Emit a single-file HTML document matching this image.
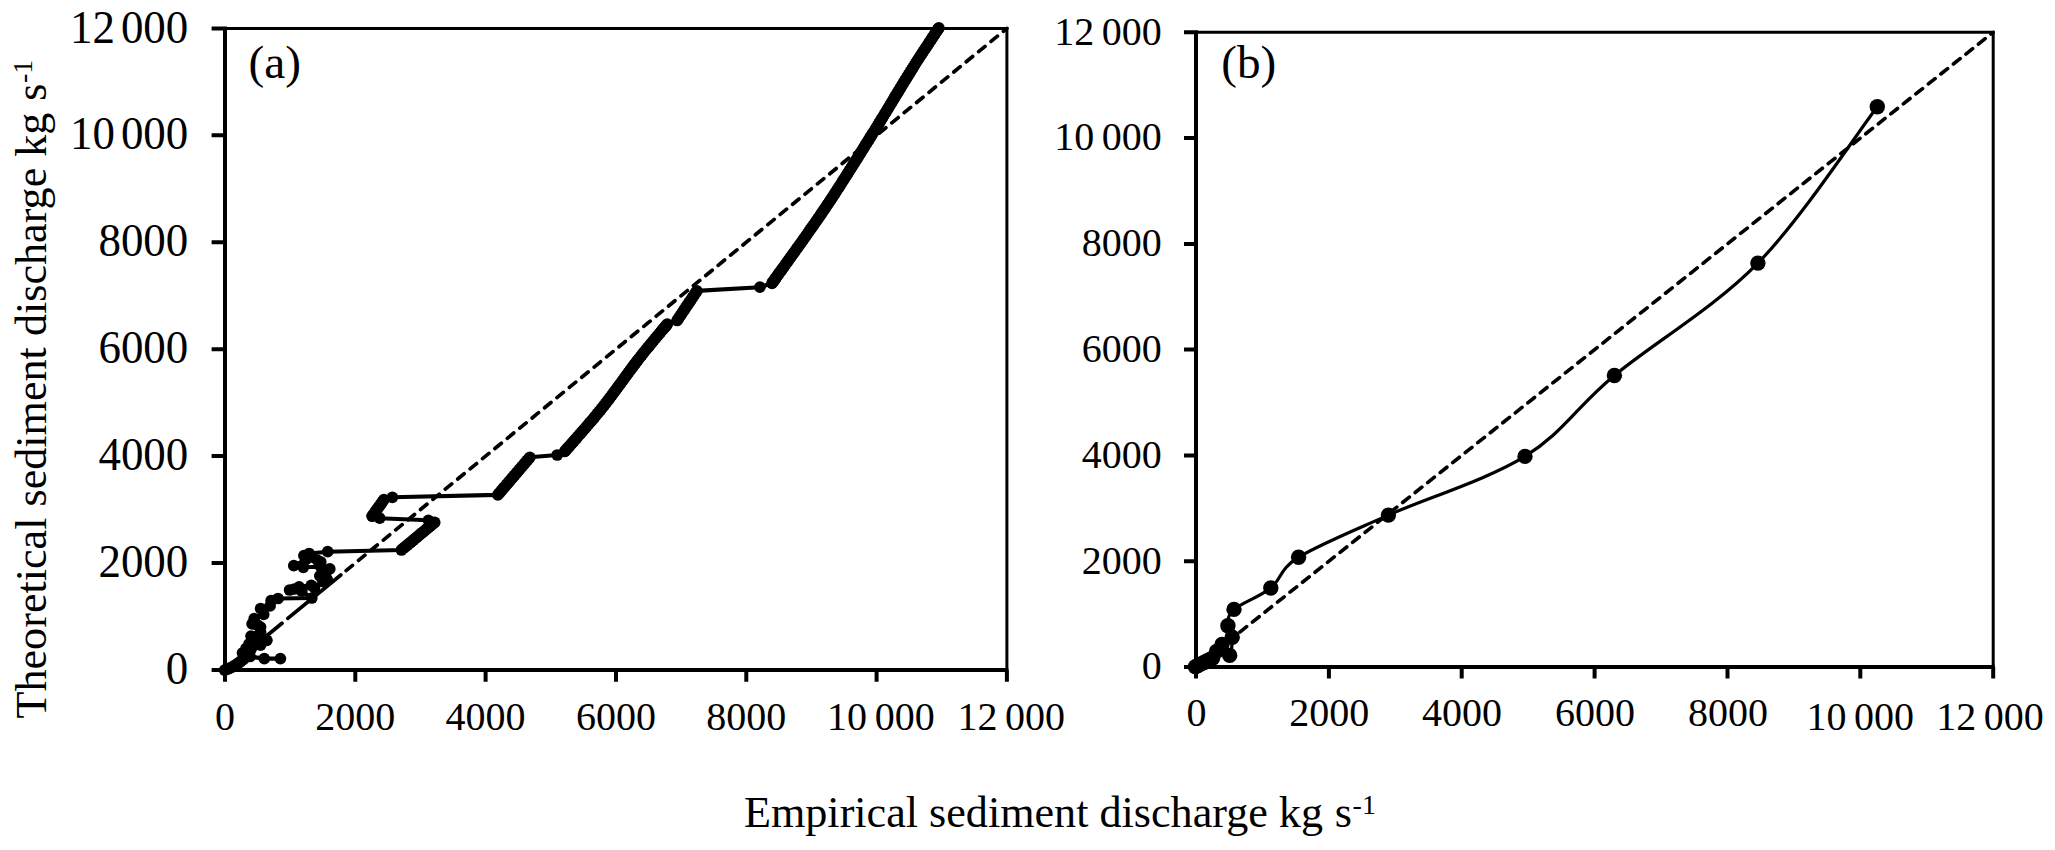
<!DOCTYPE html>
<html lang="en"><head><meta charset="utf-8"><title>Sediment discharge: theoretical vs empirical</title>
<style>html,body{margin:0;padding:0;background:#fff}svg{display:block}text{font-family:"Liberation Serif","Times New Roman",serif;fill:#000}</style>
</head><body>
<svg width="2055" height="850" viewBox="0 0 2055 850">
<rect width="2055" height="850" fill="#fff"/>
<g id="plot-a">
<path d="M225 28.4H1006.9V670" fill="none" stroke="#000" stroke-width="3"/>
<path d="M225 26.4V681.8M211.6 670H1008.4M355.3 670V681.8M211.6 563.1H225M485.6 670V681.8M211.6 456.1H225M616 670V681.8M211.6 349.2H225M746.3 670V681.8M211.6 242.3H225M876.6 670V681.8M211.6 135.3H225M1006.9 670V681.8M211.6 28.4H225" fill="none" stroke="#000" stroke-width="4"/>
<g transform="translate(188.3 684.1) scale(0.977 1)"><text x="0" y="0" font-size="46" text-anchor="end">0</text></g>
<g transform="translate(188.3 577.2) scale(0.977 1)"><text x="0" y="0" font-size="46" text-anchor="end">2000</text></g>
<g transform="translate(188.3 470.2) scale(0.977 1)"><text x="0" y="0" font-size="46" text-anchor="end">4000</text></g>
<g transform="translate(188.3 363.3) scale(0.977 1)"><text x="0" y="0" font-size="46" text-anchor="end">6000</text></g>
<g transform="translate(188.3 256.4) scale(0.977 1)"><text x="0" y="0" font-size="46" text-anchor="end">8000</text></g>
<g transform="translate(188.3 149.4) scale(0.977 1)"><text x="0" y="0" font-size="46" text-anchor="end">10&#8201;<tspan dx="-3.2">000</tspan></text></g>
<g transform="translate(188.3 42.5) scale(0.977 1)"><text x="0" y="0" font-size="46" text-anchor="end">12&#8201;<tspan dx="-3.2">000</tspan></text></g>
<text x="225" y="730.3" font-size="40" text-anchor="middle">0</text>
<text x="355.3" y="730.3" font-size="40" text-anchor="middle">2000</text>
<text x="485.6" y="730.3" font-size="40" text-anchor="middle">4000</text>
<text x="616" y="730.3" font-size="40" text-anchor="middle">6000</text>
<text x="746.3" y="730.3" font-size="40" text-anchor="middle">8000</text>
<text x="880.9" y="730.3" font-size="40" text-anchor="middle">10&#8201;<tspan dx="-0.4">000</tspan></text>
<text x="1011.2" y="730.3" font-size="40" text-anchor="middle">12&#8201;<tspan dx="-0.4">000</tspan></text>
<text x="248.5" y="78.2" font-size="47.2">(a)</text>
<path d="M225 670L282 623.3M287.8 618.4L340.8 575.0" fill="none" stroke="#000" stroke-width="3.7" stroke-linecap="round"/>
<path d="M346.1 570.6L1006.9 28.4" fill="none" stroke="#000" stroke-width="3.7" stroke-linecap="round" stroke-dasharray="8.3 7.743"/>
<polyline fill="none" stroke="#000" stroke-width="4.1" stroke-linejoin="round" points="280.4,658.6 264.3,658.6 250,656.5 224.6,670.1 225.9,669.6 227.7,669 229.8,668.1 232,667.1 234.1,666 235.6,665 237.2,663.9 238.9,662.8 240.5,661.5 242.1,660.2 243.5,659 244.8,657.8 246.3,656.2 247.6,654.6 248.7,653 249.6,651.5 250.5,650 251.5,648.1 252.4,646.3 253,644.6 253.5,643.5 242.5,653 246,648.5 249,644 260.6,645.1 266.9,640.3 256.3,636.6 251,636.1 260.6,632.4 260.6,627.1 257.4,625 252.1,623.9 254.2,618.6 263.7,614.4 260.6,608.5 270.1,605.9 271.1,600.6 278,598.5 311.8,598 301.8,591.1 289.6,590 294.3,589 299.1,586.9 311.3,585.3 314.5,587.9 322.9,581.6 327.2,579.5 324,577.3 319.8,575.8 326.1,572.1 329.8,568.9 320.8,566.8 303.3,567.3 293.8,565.7 306,559.3 312.3,557.2 320.8,562 317.6,560.4 303.9,555.6 309.2,553.5 327.7,551.7 401.4,550 402.9,548.7 404.4,547.5 405.9,546.2 407.5,545 409,543.7 410.5,542.5 412,541.2 413.5,540 415,538.7 416.5,537.5 418,536.2 419.6,534.9 421.1,533.7 422.6,532.4 424.1,531.2 425.6,529.9 427.1,528.7 428.6,527.4 430.2,526.2 431.7,524.9 433.2,523.7 434.7,522.4 428.4,520.3 379.7,518.2 372.2,516.1 372.2,516.1 373.4,514.5 374.5,512.8 375.7,511.2 376.9,509.5 378,507.9 379.2,506.3 380.4,504.6 381.6,503 382.7,501.3 383.9,499.7 392.4,497.3 497.8,494.9 499.1,493.4 500.4,491.9 501.7,490.4 502.9,488.9 504.2,487.4 505.5,485.9 506.8,484.4 508.1,482.9 509.4,481.4 510.6,479.9 511.9,478.4 513.2,476.9 514.5,475.3 515.8,473.8 517.1,472.3 518.3,470.8 519.6,469.3 520.9,467.8 522.2,466.3 523.5,464.8 524.8,463.3 526,461.8 527.3,460.3 528.6,458.8 529.9,457.3 557.2,455 564.7,451.5 565.4,450.7 566.2,449.8 567.1,448.7 568.1,447.7 569.1,446.5 570.2,445.2 571.4,443.9 572.6,442.5 573.9,441 575.2,439.5 576.6,438 578,436.3 579.5,434.7 580.9,433 582.4,431.3 584,429.5 585.5,427.8 587,426 588.6,424.2 590.1,422.4 591.7,420.6 593.2,418.8 594.7,417 596.2,415.2 597.6,413.4 599.1,411.7 600.5,410 601.8,408.3 603,406.8 604.2,405.3 605.4,403.7 606.6,402.1 607.9,400.5 609.1,398.9 610.3,397.3 611.6,395.6 612.8,393.9 614,392.3 615.3,390.6 616.5,388.9 617.8,387.2 619,385.5 620.2,383.9 621.5,382.2 622.7,380.5 623.9,378.8 625.1,377.2 626.3,375.5 627.5,373.9 628.7,372.3 629.9,370.7 631,369.1 632.2,367.5 633.3,366 634.4,364.5 635.6,363 636.7,361.6 637.7,360.2 638.8,358.8 640.3,356.9 641.8,355 643.3,353 644.9,351.1 646.4,349.2 648,347.4 649.5,345.5 651,343.7 652.5,341.9 653.9,340.1 655.4,338.4 656.8,336.7 658.1,335.1 659.4,333.6 660.6,332.1 661.8,330.7 662.9,329.4 664,328.2 664.9,327 665.8,326 666.6,325 667.3,324.2 677.1,320.5 678.2,318.9 679.3,317.2 680.4,315.6 681.5,313.9 682.6,312.3 683.7,310.6 684.8,309 685.9,307.3 687,305.7 688.1,304.1 689.2,302.4 690.3,300.8 691.4,299.1 692.5,297.5 693.6,295.8 694.7,294.2 695.8,292.5 696.9,290.9 759.9,287.2 772,283.3 772.6,282.4 773.3,281.5 774,280.5 774.7,279.5 775.5,278.4 776.4,277.2 777.2,275.9 778.2,274.7 779.1,273.3 780.1,271.9 781.2,270.5 782.2,269 783.3,267.5 784.5,265.9 785.6,264.3 786.8,262.6 788,261 789.2,259.2 790.5,257.5 791.8,255.7 793.1,253.9 794.3,252.1 795.7,250.3 797,248.4 798.3,246.6 799.7,244.7 801,242.8 802.4,240.9 803.7,239 805.1,237.1 806.4,235.2 807.8,233.3 809.1,231.3 810.4,229.4 811.8,227.5 813.1,225.7 814.4,223.8 815.7,221.9 817,220.1 818.2,218.3 819.5,216.5 820.7,214.7 821.9,213 823,211.2 824.2,209.6 825.3,207.9 826.4,206.2 827.5,204.5 828.7,202.9 829.8,201.2 830.9,199.5 832,197.8 833.1,196.1 834.3,194.4 835.4,192.6 836.5,190.9 837.6,189.2 838.7,187.5 839.8,185.8 840.9,184.1 842,182.3 843.1,180.6 844.2,178.9 845.3,177.2 846.4,175.5 847.5,173.7 848.6,172 849.6,170.3 850.7,168.6 851.8,166.9 852.9,165.2 853.9,163.5 855,161.8 856,160.2 857.1,158.5 858.1,156.8 859.2,155.1 860.2,153.5 861.2,151.8 862.3,150.2 863.3,148.6 864.3,146.9 865.3,145.3 866.3,143.7 867.3,142.1 868.3,140.5 869.3,139 870.2,137.4 871.2,135.9 872.1,134.3 873.1,132.8 874.3,130.9 875.5,129 876.6,127.1 877.8,125.3 878.9,123.4 880.1,121.6 881.2,119.7 882.3,117.9 883.4,116.1 884.5,114.3 885.6,112.5 886.7,110.7 887.8,108.9 888.9,107.1 889.9,105.3 891,103.6 892,101.9 893.1,100.1 894.1,98.4 895.1,96.7 896.1,95 897.2,93.4 898.2,91.7 899.2,90 900.2,88.4 901.1,86.8 902.1,85.2 903.1,83.6 904,82 905,80.4 906,78.9 906.9,77.4 907.8,75.8 908.8,74.4 909.7,72.9 910.6,71.4 911.9,69.4 913.2,67.3 914.4,65.3 915.7,63.3 917,61.2 918.3,59.2 919.6,57.2 920.9,55.2 922.2,53.3 923.4,51.3 924.7,49.4 925.9,47.6 927.1,45.8 928.3,44 929.4,42.3 930.5,40.6 931.6,39 932.6,37.4 933.6,35.9 934.5,34.5 935.4,33.2 936.2,31.9 937,30.8 937.7,29.7 938.3,28.7 938.9,27.8"/>
<g fill="#000">
<circle cx="280.4" cy="658.6" r="5.85"/>
<circle cx="264.3" cy="658.6" r="5.85"/>
<circle cx="250" cy="656.5" r="5.85"/>
<circle cx="224.6" cy="670.1" r="5.85"/>
<circle cx="225.9" cy="669.6" r="5.85"/>
<circle cx="227.7" cy="669" r="5.85"/>
<circle cx="229.8" cy="668.1" r="5.85"/>
<circle cx="232" cy="667.1" r="5.85"/>
<circle cx="234.1" cy="666" r="5.85"/>
<circle cx="235.6" cy="665" r="5.85"/>
<circle cx="237.2" cy="663.9" r="5.85"/>
<circle cx="238.9" cy="662.8" r="5.85"/>
<circle cx="240.5" cy="661.5" r="5.85"/>
<circle cx="242.1" cy="660.2" r="5.85"/>
<circle cx="243.5" cy="659" r="5.85"/>
<circle cx="244.8" cy="657.8" r="5.85"/>
<circle cx="246.3" cy="656.2" r="5.85"/>
<circle cx="247.6" cy="654.6" r="5.85"/>
<circle cx="248.7" cy="653" r="5.85"/>
<circle cx="249.6" cy="651.5" r="5.85"/>
<circle cx="250.5" cy="650" r="5.85"/>
<circle cx="251.5" cy="648.1" r="5.85"/>
<circle cx="252.4" cy="646.3" r="5.85"/>
<circle cx="253" cy="644.6" r="5.85"/>
<circle cx="253.5" cy="643.5" r="5.85"/>
<circle cx="242.5" cy="653" r="5.85"/>
<circle cx="246" cy="648.5" r="5.85"/>
<circle cx="249" cy="644" r="5.85"/>
<circle cx="260.6" cy="645.1" r="5.85"/>
<circle cx="266.9" cy="640.3" r="5.85"/>
<circle cx="256.3" cy="636.6" r="5.85"/>
<circle cx="251" cy="636.1" r="5.85"/>
<circle cx="260.6" cy="632.4" r="5.85"/>
<circle cx="260.6" cy="627.1" r="5.85"/>
<circle cx="257.4" cy="625" r="5.85"/>
<circle cx="252.1" cy="623.9" r="5.85"/>
<circle cx="254.2" cy="618.6" r="5.85"/>
<circle cx="263.7" cy="614.4" r="5.85"/>
<circle cx="260.6" cy="608.5" r="5.85"/>
<circle cx="270.1" cy="605.9" r="5.85"/>
<circle cx="271.1" cy="600.6" r="5.85"/>
<circle cx="278" cy="598.5" r="5.85"/>
<circle cx="311.8" cy="598" r="5.85"/>
<circle cx="301.8" cy="591.1" r="5.85"/>
<circle cx="289.6" cy="590" r="5.85"/>
<circle cx="294.3" cy="589" r="5.85"/>
<circle cx="299.1" cy="586.9" r="5.85"/>
<circle cx="311.3" cy="585.3" r="5.85"/>
<circle cx="314.5" cy="587.9" r="5.85"/>
<circle cx="322.9" cy="581.6" r="5.85"/>
<circle cx="327.2" cy="579.5" r="5.85"/>
<circle cx="324" cy="577.3" r="5.85"/>
<circle cx="319.8" cy="575.8" r="5.85"/>
<circle cx="326.1" cy="572.1" r="5.85"/>
<circle cx="329.8" cy="568.9" r="5.85"/>
<circle cx="320.8" cy="566.8" r="5.85"/>
<circle cx="303.3" cy="567.3" r="5.85"/>
<circle cx="293.8" cy="565.7" r="5.85"/>
<circle cx="306" cy="559.3" r="5.85"/>
<circle cx="312.3" cy="557.2" r="5.85"/>
<circle cx="320.8" cy="562" r="5.85"/>
<circle cx="317.6" cy="560.4" r="5.85"/>
<circle cx="303.9" cy="555.6" r="5.85"/>
<circle cx="309.2" cy="553.5" r="5.85"/>
<circle cx="327.7" cy="551.7" r="5.85"/>
<circle cx="401.4" cy="550" r="5.85"/>
<circle cx="402.9" cy="548.7" r="5.85"/>
<circle cx="404.4" cy="547.5" r="5.85"/>
<circle cx="405.9" cy="546.2" r="5.85"/>
<circle cx="407.5" cy="545" r="5.85"/>
<circle cx="409" cy="543.7" r="5.85"/>
<circle cx="410.5" cy="542.5" r="5.85"/>
<circle cx="412" cy="541.2" r="5.85"/>
<circle cx="413.5" cy="540" r="5.85"/>
<circle cx="415" cy="538.7" r="5.85"/>
<circle cx="416.5" cy="537.5" r="5.85"/>
<circle cx="418" cy="536.2" r="5.85"/>
<circle cx="419.6" cy="534.9" r="5.85"/>
<circle cx="421.1" cy="533.7" r="5.85"/>
<circle cx="422.6" cy="532.4" r="5.85"/>
<circle cx="424.1" cy="531.2" r="5.85"/>
<circle cx="425.6" cy="529.9" r="5.85"/>
<circle cx="427.1" cy="528.7" r="5.85"/>
<circle cx="428.6" cy="527.4" r="5.85"/>
<circle cx="430.2" cy="526.2" r="5.85"/>
<circle cx="431.7" cy="524.9" r="5.85"/>
<circle cx="433.2" cy="523.7" r="5.85"/>
<circle cx="434.7" cy="522.4" r="5.85"/>
<circle cx="428.4" cy="520.3" r="5.85"/>
<circle cx="379.7" cy="518.2" r="5.85"/>
<circle cx="372.2" cy="516.1" r="5.85"/>
<circle cx="372.2" cy="516.1" r="5.85"/>
<circle cx="373.4" cy="514.5" r="5.85"/>
<circle cx="374.5" cy="512.8" r="5.85"/>
<circle cx="375.7" cy="511.2" r="5.85"/>
<circle cx="376.9" cy="509.5" r="5.85"/>
<circle cx="378" cy="507.9" r="5.85"/>
<circle cx="379.2" cy="506.3" r="5.85"/>
<circle cx="380.4" cy="504.6" r="5.85"/>
<circle cx="381.6" cy="503" r="5.85"/>
<circle cx="382.7" cy="501.3" r="5.85"/>
<circle cx="383.9" cy="499.7" r="5.85"/>
<circle cx="392.4" cy="497.3" r="5.85"/>
<circle cx="497.8" cy="494.9" r="5.85"/>
<circle cx="499.1" cy="493.4" r="5.85"/>
<circle cx="500.4" cy="491.9" r="5.85"/>
<circle cx="501.7" cy="490.4" r="5.85"/>
<circle cx="502.9" cy="488.9" r="5.85"/>
<circle cx="504.2" cy="487.4" r="5.85"/>
<circle cx="505.5" cy="485.9" r="5.85"/>
<circle cx="506.8" cy="484.4" r="5.85"/>
<circle cx="508.1" cy="482.9" r="5.85"/>
<circle cx="509.4" cy="481.4" r="5.85"/>
<circle cx="510.6" cy="479.9" r="5.85"/>
<circle cx="511.9" cy="478.4" r="5.85"/>
<circle cx="513.2" cy="476.9" r="5.85"/>
<circle cx="514.5" cy="475.3" r="5.85"/>
<circle cx="515.8" cy="473.8" r="5.85"/>
<circle cx="517.1" cy="472.3" r="5.85"/>
<circle cx="518.3" cy="470.8" r="5.85"/>
<circle cx="519.6" cy="469.3" r="5.85"/>
<circle cx="520.9" cy="467.8" r="5.85"/>
<circle cx="522.2" cy="466.3" r="5.85"/>
<circle cx="523.5" cy="464.8" r="5.85"/>
<circle cx="524.8" cy="463.3" r="5.85"/>
<circle cx="526" cy="461.8" r="5.85"/>
<circle cx="527.3" cy="460.3" r="5.85"/>
<circle cx="528.6" cy="458.8" r="5.85"/>
<circle cx="529.9" cy="457.3" r="5.85"/>
<circle cx="557.2" cy="455" r="5.85"/>
<circle cx="564.7" cy="451.5" r="5.85"/>
<circle cx="565.4" cy="450.7" r="5.85"/>
<circle cx="566.2" cy="449.8" r="5.85"/>
<circle cx="567.1" cy="448.7" r="5.85"/>
<circle cx="568.1" cy="447.7" r="5.85"/>
<circle cx="569.1" cy="446.5" r="5.85"/>
<circle cx="570.2" cy="445.2" r="5.85"/>
<circle cx="571.4" cy="443.9" r="5.85"/>
<circle cx="572.6" cy="442.5" r="5.85"/>
<circle cx="573.9" cy="441" r="5.85"/>
<circle cx="575.2" cy="439.5" r="5.85"/>
<circle cx="576.6" cy="438" r="5.85"/>
<circle cx="578" cy="436.3" r="5.85"/>
<circle cx="579.5" cy="434.7" r="5.85"/>
<circle cx="580.9" cy="433" r="5.85"/>
<circle cx="582.4" cy="431.3" r="5.85"/>
<circle cx="584" cy="429.5" r="5.85"/>
<circle cx="585.5" cy="427.8" r="5.85"/>
<circle cx="587" cy="426" r="5.85"/>
<circle cx="588.6" cy="424.2" r="5.85"/>
<circle cx="590.1" cy="422.4" r="5.85"/>
<circle cx="591.7" cy="420.6" r="5.85"/>
<circle cx="593.2" cy="418.8" r="5.85"/>
<circle cx="594.7" cy="417" r="5.85"/>
<circle cx="596.2" cy="415.2" r="5.85"/>
<circle cx="597.6" cy="413.4" r="5.85"/>
<circle cx="599.1" cy="411.7" r="5.85"/>
<circle cx="600.5" cy="410" r="5.85"/>
<circle cx="601.8" cy="408.3" r="5.85"/>
<circle cx="603" cy="406.8" r="5.85"/>
<circle cx="604.2" cy="405.3" r="5.85"/>
<circle cx="605.4" cy="403.7" r="5.85"/>
<circle cx="606.6" cy="402.1" r="5.85"/>
<circle cx="607.9" cy="400.5" r="5.85"/>
<circle cx="609.1" cy="398.9" r="5.85"/>
<circle cx="610.3" cy="397.3" r="5.85"/>
<circle cx="611.6" cy="395.6" r="5.85"/>
<circle cx="612.8" cy="393.9" r="5.85"/>
<circle cx="614" cy="392.3" r="5.85"/>
<circle cx="615.3" cy="390.6" r="5.85"/>
<circle cx="616.5" cy="388.9" r="5.85"/>
<circle cx="617.8" cy="387.2" r="5.85"/>
<circle cx="619" cy="385.5" r="5.85"/>
<circle cx="620.2" cy="383.9" r="5.85"/>
<circle cx="621.5" cy="382.2" r="5.85"/>
<circle cx="622.7" cy="380.5" r="5.85"/>
<circle cx="623.9" cy="378.8" r="5.85"/>
<circle cx="625.1" cy="377.2" r="5.85"/>
<circle cx="626.3" cy="375.5" r="5.85"/>
<circle cx="627.5" cy="373.9" r="5.85"/>
<circle cx="628.7" cy="372.3" r="5.85"/>
<circle cx="629.9" cy="370.7" r="5.85"/>
<circle cx="631" cy="369.1" r="5.85"/>
<circle cx="632.2" cy="367.5" r="5.85"/>
<circle cx="633.3" cy="366" r="5.85"/>
<circle cx="634.4" cy="364.5" r="5.85"/>
<circle cx="635.6" cy="363" r="5.85"/>
<circle cx="636.7" cy="361.6" r="5.85"/>
<circle cx="637.7" cy="360.2" r="5.85"/>
<circle cx="638.8" cy="358.8" r="5.85"/>
<circle cx="640.3" cy="356.9" r="5.85"/>
<circle cx="641.8" cy="355" r="5.85"/>
<circle cx="643.3" cy="353" r="5.85"/>
<circle cx="644.9" cy="351.1" r="5.85"/>
<circle cx="646.4" cy="349.2" r="5.85"/>
<circle cx="648" cy="347.4" r="5.85"/>
<circle cx="649.5" cy="345.5" r="5.85"/>
<circle cx="651" cy="343.7" r="5.85"/>
<circle cx="652.5" cy="341.9" r="5.85"/>
<circle cx="653.9" cy="340.1" r="5.85"/>
<circle cx="655.4" cy="338.4" r="5.85"/>
<circle cx="656.8" cy="336.7" r="5.85"/>
<circle cx="658.1" cy="335.1" r="5.85"/>
<circle cx="659.4" cy="333.6" r="5.85"/>
<circle cx="660.6" cy="332.1" r="5.85"/>
<circle cx="661.8" cy="330.7" r="5.85"/>
<circle cx="662.9" cy="329.4" r="5.85"/>
<circle cx="664" cy="328.2" r="5.85"/>
<circle cx="664.9" cy="327" r="5.85"/>
<circle cx="665.8" cy="326" r="5.85"/>
<circle cx="666.6" cy="325" r="5.85"/>
<circle cx="667.3" cy="324.2" r="5.85"/>
<circle cx="677.1" cy="320.5" r="5.85"/>
<circle cx="678.2" cy="318.9" r="5.85"/>
<circle cx="679.3" cy="317.2" r="5.85"/>
<circle cx="680.4" cy="315.6" r="5.85"/>
<circle cx="681.5" cy="313.9" r="5.85"/>
<circle cx="682.6" cy="312.3" r="5.85"/>
<circle cx="683.7" cy="310.6" r="5.85"/>
<circle cx="684.8" cy="309" r="5.85"/>
<circle cx="685.9" cy="307.3" r="5.85"/>
<circle cx="687" cy="305.7" r="5.85"/>
<circle cx="688.1" cy="304.1" r="5.85"/>
<circle cx="689.2" cy="302.4" r="5.85"/>
<circle cx="690.3" cy="300.8" r="5.85"/>
<circle cx="691.4" cy="299.1" r="5.85"/>
<circle cx="692.5" cy="297.5" r="5.85"/>
<circle cx="693.6" cy="295.8" r="5.85"/>
<circle cx="694.7" cy="294.2" r="5.85"/>
<circle cx="695.8" cy="292.5" r="5.85"/>
<circle cx="696.9" cy="290.9" r="5.85"/>
<circle cx="759.9" cy="287.2" r="5.85"/>
<circle cx="772" cy="283.3" r="5.85"/>
<circle cx="772.6" cy="282.4" r="5.85"/>
<circle cx="773.3" cy="281.5" r="5.85"/>
<circle cx="774" cy="280.5" r="5.85"/>
<circle cx="774.7" cy="279.5" r="5.85"/>
<circle cx="775.5" cy="278.4" r="5.85"/>
<circle cx="776.4" cy="277.2" r="5.85"/>
<circle cx="777.2" cy="275.9" r="5.85"/>
<circle cx="778.2" cy="274.7" r="5.85"/>
<circle cx="779.1" cy="273.3" r="5.85"/>
<circle cx="780.1" cy="271.9" r="5.85"/>
<circle cx="781.2" cy="270.5" r="5.85"/>
<circle cx="782.2" cy="269" r="5.85"/>
<circle cx="783.3" cy="267.5" r="5.85"/>
<circle cx="784.5" cy="265.9" r="5.85"/>
<circle cx="785.6" cy="264.3" r="5.85"/>
<circle cx="786.8" cy="262.6" r="5.85"/>
<circle cx="788" cy="261" r="5.85"/>
<circle cx="789.2" cy="259.2" r="5.85"/>
<circle cx="790.5" cy="257.5" r="5.85"/>
<circle cx="791.8" cy="255.7" r="5.85"/>
<circle cx="793.1" cy="253.9" r="5.85"/>
<circle cx="794.3" cy="252.1" r="5.85"/>
<circle cx="795.7" cy="250.3" r="5.85"/>
<circle cx="797" cy="248.4" r="5.85"/>
<circle cx="798.3" cy="246.6" r="5.85"/>
<circle cx="799.7" cy="244.7" r="5.85"/>
<circle cx="801" cy="242.8" r="5.85"/>
<circle cx="802.4" cy="240.9" r="5.85"/>
<circle cx="803.7" cy="239" r="5.85"/>
<circle cx="805.1" cy="237.1" r="5.85"/>
<circle cx="806.4" cy="235.2" r="5.85"/>
<circle cx="807.8" cy="233.3" r="5.85"/>
<circle cx="809.1" cy="231.3" r="5.85"/>
<circle cx="810.4" cy="229.4" r="5.85"/>
<circle cx="811.8" cy="227.5" r="5.85"/>
<circle cx="813.1" cy="225.7" r="5.85"/>
<circle cx="814.4" cy="223.8" r="5.85"/>
<circle cx="815.7" cy="221.9" r="5.85"/>
<circle cx="817" cy="220.1" r="5.85"/>
<circle cx="818.2" cy="218.3" r="5.85"/>
<circle cx="819.5" cy="216.5" r="5.85"/>
<circle cx="820.7" cy="214.7" r="5.85"/>
<circle cx="821.9" cy="213" r="5.85"/>
<circle cx="823" cy="211.2" r="5.85"/>
<circle cx="824.2" cy="209.6" r="5.85"/>
<circle cx="825.3" cy="207.9" r="5.85"/>
<circle cx="826.4" cy="206.2" r="5.85"/>
<circle cx="827.5" cy="204.5" r="5.85"/>
<circle cx="828.7" cy="202.9" r="5.85"/>
<circle cx="829.8" cy="201.2" r="5.85"/>
<circle cx="830.9" cy="199.5" r="5.85"/>
<circle cx="832" cy="197.8" r="5.85"/>
<circle cx="833.1" cy="196.1" r="5.85"/>
<circle cx="834.3" cy="194.4" r="5.85"/>
<circle cx="835.4" cy="192.6" r="5.85"/>
<circle cx="836.5" cy="190.9" r="5.85"/>
<circle cx="837.6" cy="189.2" r="5.85"/>
<circle cx="838.7" cy="187.5" r="5.85"/>
<circle cx="839.8" cy="185.8" r="5.85"/>
<circle cx="840.9" cy="184.1" r="5.85"/>
<circle cx="842" cy="182.3" r="5.85"/>
<circle cx="843.1" cy="180.6" r="5.85"/>
<circle cx="844.2" cy="178.9" r="5.85"/>
<circle cx="845.3" cy="177.2" r="5.85"/>
<circle cx="846.4" cy="175.5" r="5.85"/>
<circle cx="847.5" cy="173.7" r="5.85"/>
<circle cx="848.6" cy="172" r="5.85"/>
<circle cx="849.6" cy="170.3" r="5.85"/>
<circle cx="850.7" cy="168.6" r="5.85"/>
<circle cx="851.8" cy="166.9" r="5.85"/>
<circle cx="852.9" cy="165.2" r="5.85"/>
<circle cx="853.9" cy="163.5" r="5.85"/>
<circle cx="855" cy="161.8" r="5.85"/>
<circle cx="856" cy="160.2" r="5.85"/>
<circle cx="857.1" cy="158.5" r="5.85"/>
<circle cx="858.1" cy="156.8" r="5.85"/>
<circle cx="859.2" cy="155.1" r="5.85"/>
<circle cx="860.2" cy="153.5" r="5.85"/>
<circle cx="861.2" cy="151.8" r="5.85"/>
<circle cx="862.3" cy="150.2" r="5.85"/>
<circle cx="863.3" cy="148.6" r="5.85"/>
<circle cx="864.3" cy="146.9" r="5.85"/>
<circle cx="865.3" cy="145.3" r="5.85"/>
<circle cx="866.3" cy="143.7" r="5.85"/>
<circle cx="867.3" cy="142.1" r="5.85"/>
<circle cx="868.3" cy="140.5" r="5.85"/>
<circle cx="869.3" cy="139" r="5.85"/>
<circle cx="870.2" cy="137.4" r="5.85"/>
<circle cx="871.2" cy="135.9" r="5.85"/>
<circle cx="872.1" cy="134.3" r="5.85"/>
<circle cx="873.1" cy="132.8" r="5.85"/>
<circle cx="874.3" cy="130.9" r="5.85"/>
<circle cx="875.5" cy="129" r="5.85"/>
<circle cx="876.6" cy="127.1" r="5.85"/>
<circle cx="877.8" cy="125.3" r="5.85"/>
<circle cx="878.9" cy="123.4" r="5.85"/>
<circle cx="880.1" cy="121.6" r="5.85"/>
<circle cx="881.2" cy="119.7" r="5.85"/>
<circle cx="882.3" cy="117.9" r="5.85"/>
<circle cx="883.4" cy="116.1" r="5.85"/>
<circle cx="884.5" cy="114.3" r="5.85"/>
<circle cx="885.6" cy="112.5" r="5.85"/>
<circle cx="886.7" cy="110.7" r="5.85"/>
<circle cx="887.8" cy="108.9" r="5.85"/>
<circle cx="888.9" cy="107.1" r="5.85"/>
<circle cx="889.9" cy="105.3" r="5.85"/>
<circle cx="891" cy="103.6" r="5.85"/>
<circle cx="892" cy="101.9" r="5.85"/>
<circle cx="893.1" cy="100.1" r="5.85"/>
<circle cx="894.1" cy="98.4" r="5.85"/>
<circle cx="895.1" cy="96.7" r="5.85"/>
<circle cx="896.1" cy="95" r="5.85"/>
<circle cx="897.2" cy="93.4" r="5.85"/>
<circle cx="898.2" cy="91.7" r="5.85"/>
<circle cx="899.2" cy="90" r="5.85"/>
<circle cx="900.2" cy="88.4" r="5.85"/>
<circle cx="901.1" cy="86.8" r="5.85"/>
<circle cx="902.1" cy="85.2" r="5.85"/>
<circle cx="903.1" cy="83.6" r="5.85"/>
<circle cx="904" cy="82" r="5.85"/>
<circle cx="905" cy="80.4" r="5.85"/>
<circle cx="906" cy="78.9" r="5.85"/>
<circle cx="906.9" cy="77.4" r="5.85"/>
<circle cx="907.8" cy="75.8" r="5.85"/>
<circle cx="908.8" cy="74.4" r="5.85"/>
<circle cx="909.7" cy="72.9" r="5.85"/>
<circle cx="910.6" cy="71.4" r="5.85"/>
<circle cx="911.9" cy="69.4" r="5.85"/>
<circle cx="913.2" cy="67.3" r="5.85"/>
<circle cx="914.4" cy="65.3" r="5.85"/>
<circle cx="915.7" cy="63.3" r="5.85"/>
<circle cx="917" cy="61.2" r="5.85"/>
<circle cx="918.3" cy="59.2" r="5.85"/>
<circle cx="919.6" cy="57.2" r="5.85"/>
<circle cx="920.9" cy="55.2" r="5.85"/>
<circle cx="922.2" cy="53.3" r="5.85"/>
<circle cx="923.4" cy="51.3" r="5.85"/>
<circle cx="924.7" cy="49.4" r="5.85"/>
<circle cx="925.9" cy="47.6" r="5.85"/>
<circle cx="927.1" cy="45.8" r="5.85"/>
<circle cx="928.3" cy="44" r="5.85"/>
<circle cx="929.4" cy="42.3" r="5.85"/>
<circle cx="930.5" cy="40.6" r="5.85"/>
<circle cx="931.6" cy="39" r="5.85"/>
<circle cx="932.6" cy="37.4" r="5.85"/>
<circle cx="933.6" cy="35.9" r="5.85"/>
<circle cx="934.5" cy="34.5" r="5.85"/>
<circle cx="935.4" cy="33.2" r="5.85"/>
<circle cx="936.2" cy="31.9" r="5.85"/>
<circle cx="937" cy="30.8" r="5.85"/>
<circle cx="937.7" cy="29.7" r="5.85"/>
<circle cx="938.3" cy="28.7" r="5.85"/>
<circle cx="938.9" cy="27.8" r="5.85"/>
</g>
</g>
<g id="plot-b">
<path d="M1196 32.3H1993.2V667" fill="none" stroke="#000" stroke-width="3"/>
<path d="M1196 30.3V678.6M1184 667H1994.7M1328.9 667V678.6M1184 561.2H1196M1461.7 667V678.6M1184 455.4H1196M1594.6 667V678.6M1184 349.6H1196M1727.5 667V678.6M1184 243.9H1196M1860.3 667V678.6M1184 138.1H1196M1993.2 667V678.6M1184 32.3H1196" fill="none" stroke="#000" stroke-width="4"/>
<text x="1161.8" y="679.3" font-size="40" text-anchor="end">0</text>
<text x="1161.8" y="573.5" font-size="40" text-anchor="end">2000</text>
<text x="1161.8" y="467.7" font-size="40" text-anchor="end">4000</text>
<text x="1161.8" y="361.9" font-size="40" text-anchor="end">6000</text>
<text x="1161.8" y="256.2" font-size="40" text-anchor="end">8000</text>
<text x="1161.8" y="150.4" font-size="40" text-anchor="end">10&#8201;<tspan dx="-0.4">000</tspan></text>
<text x="1161.8" y="44.6" font-size="40" text-anchor="end">12&#8201;<tspan dx="-0.4">000</tspan></text>
<text x="1196.4" y="726.3" font-size="40" text-anchor="middle">0</text>
<text x="1329.3" y="726.3" font-size="40" text-anchor="middle">2000</text>
<text x="1462.1" y="726.3" font-size="40" text-anchor="middle">4000</text>
<text x="1595" y="726.3" font-size="40" text-anchor="middle">6000</text>
<text x="1727.9" y="726.3" font-size="40" text-anchor="middle">8000</text>
<text x="1860.3" y="730.3" font-size="40" text-anchor="middle">10&#8201;<tspan dx="-0.4">000</tspan></text>
<text x="1990" y="730.3" font-size="40" text-anchor="middle">12&#8201;<tspan dx="-0.4">000</tspan></text>
<text x="1221.3" y="78" font-size="47.2">(b)</text>
<path d="M1993.2 32.3L1196 667" fill="none" stroke="#000" stroke-width="3.6" stroke-linecap="round" stroke-dasharray="8.6 7.4" stroke-dashoffset="5.7"/>
<path d="M1195.5 666.7C1196 666.5 1197.4 665.8 1198.3 665.3C1199.3 664.8 1200.2 664.3 1201.2 663.9C1202.1 663.4 1203.1 662.9 1204 662.5C1204.9 662 1205.9 661.5 1206.8 661C1207.8 660.6 1208.7 660.1 1209.7 659.6C1210.6 659.1 1211.4 659.6 1212.5 658.2C1213.6 656.8 1214.9 653.7 1216.5 651.4C1218.1 649.1 1219.8 643.8 1222 644.5C1224.2 645.2 1228 656.6 1229.7 655.4C1231.4 654.2 1232.5 642.1 1232.2 637.2C1231.9 632.3 1227.6 630.4 1227.9 625.8C1228.2 621.2 1226.8 615.7 1234 609.4C1241.2 603.1 1260 596.7 1270.8 588C1281.6 579.3 1279 569.4 1298.6 557.2C1318.2 545.1 1350.7 531.9 1388.4 515.1C1426.1 498.3 1487.3 479.7 1525 456.4C1562.7 433.1 1575.6 407.7 1614.4 375.5C1653.2 343.3 1714.1 307.9 1757.9 263.1C1801.7 218.3 1857.4 132.8 1877.3 106.8" fill="none" stroke="#000" stroke-width="3.2"/>
<g fill="#000">
<circle cx="1195.5" cy="666.7" r="7.7"/>
<circle cx="1198.3" cy="665.3" r="7.7"/>
<circle cx="1201.2" cy="663.9" r="7.7"/>
<circle cx="1204" cy="662.5" r="7.7"/>
<circle cx="1206.8" cy="661" r="7.7"/>
<circle cx="1209.7" cy="659.6" r="7.7"/>
<circle cx="1212.5" cy="658.2" r="7.7"/>
<circle cx="1216.5" cy="651.4" r="7.7"/>
<circle cx="1222" cy="644.5" r="7.7"/>
<circle cx="1229.7" cy="655.4" r="7.7"/>
<circle cx="1232.2" cy="637.2" r="7.7"/>
<circle cx="1227.9" cy="625.8" r="7.7"/>
<circle cx="1234" cy="609.4" r="7.7"/>
<circle cx="1270.8" cy="588" r="7.7"/>
<circle cx="1298.6" cy="557.2" r="7.7"/>
<circle cx="1388.4" cy="515.1" r="7.7"/>
<circle cx="1525" cy="456.4" r="7.7"/>
<circle cx="1614.4" cy="375.5" r="7.7"/>
<circle cx="1757.9" cy="263.1" r="7.7"/>
<circle cx="1877.3" cy="106.8" r="7.7"/>
</g>
</g>
<text transform="translate(45.7,718.5) rotate(-90)" font-size="44.15">Theoretical sediment discharge kg<tspan dx="0.8"> s</tspan><tspan font-size="28" dy="-13.8" dx="0.6">-1</tspan></text>
<text x="744" y="827.1" font-size="44.15">Empirical sediment discharge kg<tspan dx="0.8"> s</tspan><tspan font-size="28" dy="-13.5" dx="0.6">-1</tspan></text>
</svg>
</body></html>
